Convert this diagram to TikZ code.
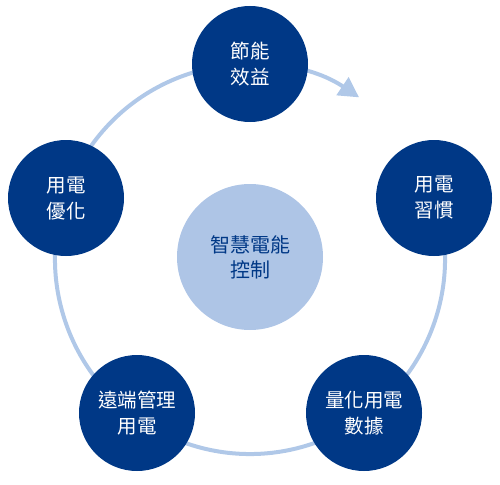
\documentclass[tikz,border=0pt]{standalone}
\usepackage{fontspec}
\newfontfamily\cjk{Noto Sans CJK TC}
\usetikzlibrary{arrows.meta}
\definecolor{navy}{RGB}{0,56,134}
\definecolor{lightblue}{RGB}{174,197,230}
\definecolor{ringblue}{RGB}{176,200,232}
\tikzset{
  outer/.style={circle,fill=navy,minimum size=116pt,inner sep=0pt,text=white,
    font=\cjk\fontsize{19.5}{26}\selectfont,align=center},
  inner/.style={circle,fill=lightblue,minimum size=146pt,inner sep=0pt,text=navy,
    font=\cjk\fontsize{20}{25}\selectfont,align=center},
  ring/.style={draw=ringblue,line width=4pt,-{Triangle[length=20pt,width=21pt]}}
}
\begin{document}
\begin{tikzpicture}[x=1pt,y=-1pt]
\useasboundingbox (0,0) rectangle (500,484);
\coordinate (c) at (250,259);
\draw[ring] (c) ++(-18:195) coordinate (ringstart) arc[start angle=-18,end angle=304,radius=195] coordinate (ringend);
\node[outer] (top) at (250,64) {節能\\效益};
\node[outer] (right) at (434,198) {用電\\習慣};
\node[outer] (br) at (364,413) {量化用電\\數據};
\node[outer] (bl) at (137,413) {遠端管理\\用電};
\node[outer] (left) at (66,198) {用電\\優化};
\node[inner] (center) at (250,257) {\raisebox{-6pt}{\parbox{90pt}{\centering 智慧電能\\控制}}};
\end{tikzpicture}
\end{document}
